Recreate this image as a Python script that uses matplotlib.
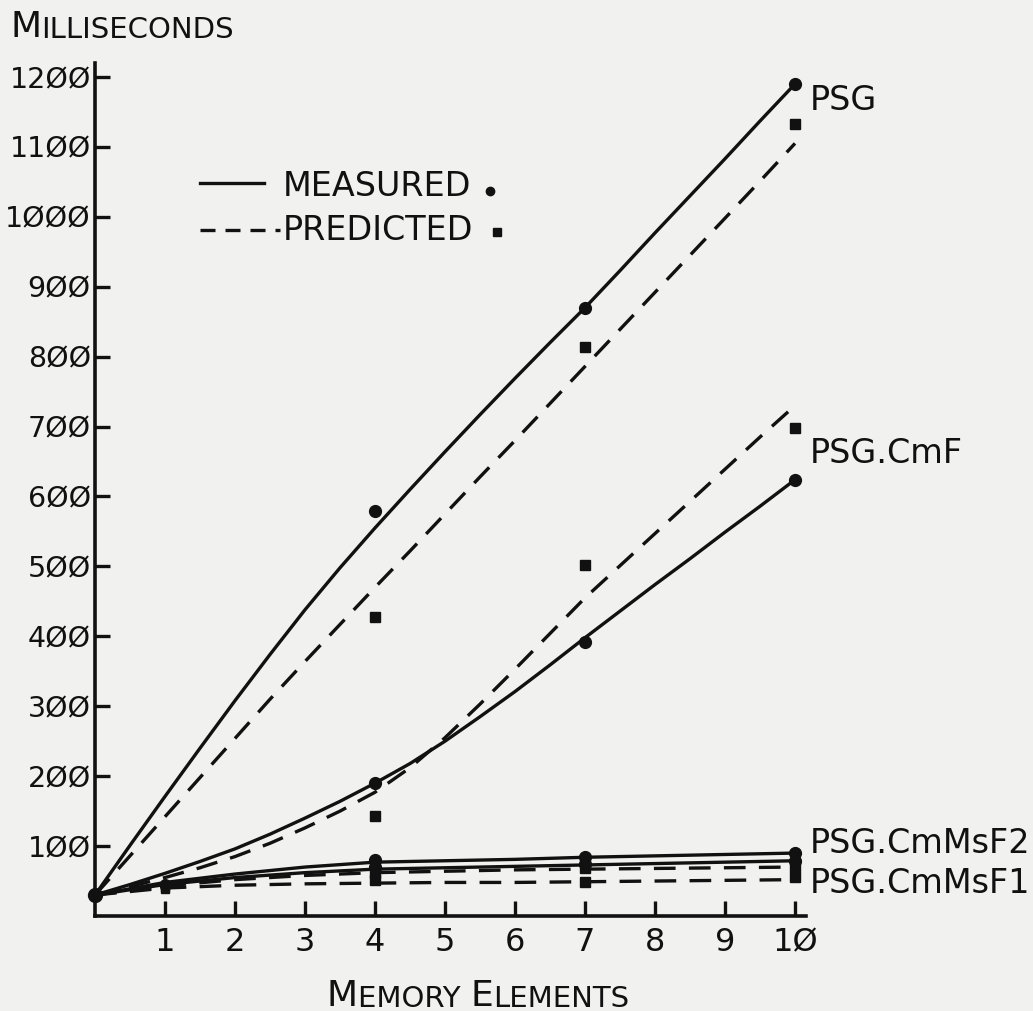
import matplotlib
matplotlib.use("Agg")
import matplotlib.pyplot as plt
from matplotlib.lines import Line2D

plt.rcParams['font.family'] = ['DejaVu Sans']

# ---------------- data ----------------
x_fine = [0, 0.5, 1, 1.5, 2, 2.5, 3, 3.5, 4, 4.5, 5, 5.5, 6, 6.5, 7, 7.5, 8, 8.5, 9, 9.5, 10]
psg_meas_curve = [30, 101, 171, 240, 308, 374, 438, 498, 555, 610, 664, 717, 769, 820, 870,
                  923, 977, 1030, 1083, 1137, 1190]
psg_pred_curve = [30, 86, 142, 198, 254, 310, 364, 417, 470, 522, 575, 628, 680, 733, 786,
                  839, 892, 945, 998, 1051, 1105]
cmf_meas_curve = [30, 45, 61, 78, 96, 117, 140, 164, 190, 218, 250, 285, 321, 359, 398,
                  436, 474, 511, 549, 586, 624]
cmf_pred_curve = [30, 42, 55, 69, 85, 104, 126, 150, 177, 212, 255, 303, 353, 404, 455,
                  501, 547, 593, 639, 685, 730]

x_curve = [0, 1, 2, 3, 4, 5, 6, 7, 8, 9, 10]
f2_meas_curve = [30, 48, 60, 70, 77, 79, 81, 84, 86, 88, 90]
f1_meas_curve = [30, 45, 55, 62, 67, 69, 71, 73, 75, 77, 79]
f2_pred_curve = [30, 43, 52, 58, 62, 64, 66, 67, 68, 69, 70]
f1_pred_curve = [30, 40, 44, 46, 47, 48, 48, 49, 50, 51, 52]

x_pts = [4, 7, 10]
psg_meas_pts = [579, 869, 1190]
psg_pred_pts = [428, 814, 1133]
cmf_meas_pts = [190, 392, 624]
cmf_pred_pts = [143, 502, 698]
f2_meas_pts = [80, 85, 90]
f1_meas_pts = [70, 74, 78]
f2_pred_pts = [62, 68, 70]
f1_pred_pts = [52, 49, 56]

origin_x = [0]
origin_y = [30]
x_one = [1, 1]
one_meas = [46, 43]
one_pred = [41, 39]

series_labels = ["PSG", "PSG.CmF", "PSG.CmMsF2", "PSG.CmMsF1"]
label_y = [1166, 662, 104, 46]

x_ticks = [1, 2, 3, 4, 5, 6, 7, 8, 9, 10]
x_ticklabels = ["1", "2", "3", "4", "5", "6", "7", "8", "9", "1\u00d8"]
y_ticks = [100, 200, 300, 400, 500, 600, 700, 800, 900, 1000, 1100, 1200]
y_ticklabels = ["1\u00d8\u00d8", "2\u00d8\u00d8", "3\u00d8\u00d8", "4\u00d8\u00d8", "5\u00d8\u00d8",
                "6\u00d8\u00d8", "7\u00d8\u00d8", "8\u00d8\u00d8", "9\u00d8\u00d8",
                "1\u00d8\u00d8\u00d8", "11\u00d8\u00d8", "12\u00d8\u00d8"]

# ---------------- figure ----------------
W, H = 1033, 1011
bg = '#f1f1ef'
ink = '#111111'
fig = plt.figure(figsize=(W / 100, H / 100), dpi=100, facecolor=bg)
ax = fig.add_axes([95 / W, 1 - 916 / H, 710.5 / W, (916 - 63) / H])
ax.set_facecolor(bg)
ax.set_xlim(0, 10.15)
ax.set_ylim(0, 1220)

for s in ['top', 'right']:
    ax.spines[s].set_visible(False)
for s in ['left', 'bottom']:
    ax.spines[s].set_linewidth(2.6)
    ax.spines[s].set_color(ink)

ax.set_xticks(x_ticks)
ax.set_xticklabels(x_ticklabels)
ax.set_yticks(y_ticks)
ax.set_yticklabels(y_ticklabels)
ax.tick_params(axis='both', direction='in', length=11, width=2.4, colors=ink)
ax.tick_params(axis='x', pad=8, labelsize=23)
ax.tick_params(axis='y', pad=3, labelsize=20.5)

lw = 2.4
dash = (6.5, 4)
for xc, yc in [(x_fine, psg_meas_curve), (x_fine, cmf_meas_curve),
               (x_curve, f2_meas_curve), (x_curve, f1_meas_curve)]:
    ax.plot(xc, yc, color=ink, lw=lw, solid_capstyle='round', solid_joinstyle='round')
for xc, yc in [(x_fine, psg_pred_curve), (x_fine, cmf_pred_curve),
               (x_curve, f2_pred_curve), (x_curve, f1_pred_curve)]:
    ax.plot(xc, yc, color=ink, lw=lw, linestyle=(0, dash), dash_capstyle='butt')

for yp in [psg_meas_pts, cmf_meas_pts, f2_meas_pts, f1_meas_pts]:
    ax.plot(x_pts, yp, 'o', color=ink, ms=8.5, clip_on=False)
for yp in [psg_pred_pts, cmf_pred_pts, f2_pred_pts, f1_pred_pts]:
    ax.plot(x_pts, yp, 's', color=ink, ms=7, clip_on=False)
ax.plot(origin_x, origin_y, 'o', color=ink, ms=10, clip_on=False)
ax.plot(x_one, one_meas, 'o', color=ink, ms=7, clip_on=False)
ax.plot(x_one, one_pred, 's', color=ink, ms=6, clip_on=False)

for lab, ly in zip(series_labels, label_y):
    ax.text(10.21, ly, lab, fontsize=24, color=ink, ha='left', va='center', clip_on=False)


def fx(px):
    return px / W


def fy(py):
    return 1 - py / H


# legend (hand drawn)
fig.add_artist(Line2D([fx(200), fx(264)], [fy(183), fy(183)], color=ink, lw=2.4))
fig.add_artist(Line2D([fx(200), fx(280)], [fy(230), fy(230)], color=ink, lw=2.4,
                      linestyle=(0, (4.5, 3))))
fig.text(fx(283), fy(186), "MEASURED", fontsize=24, color=ink, ha='left', va='center')
fig.text(fx(283), fy(230), "PREDICTED", fontsize=24, color=ink, ha='left', va='center')
fig.add_artist(Line2D([fx(490)], [fy(191)], marker='o', ms=6, color=ink, lw=0))
fig.add_artist(Line2D([fx(497)], [fy(232)], marker='s', ms=5.5, color=ink, lw=0))

# axis titles in small caps
t1 = fig.text(fx(10), fy(37), "M", fontsize=26, color=ink, ha='left', va='baseline')
ax.annotate("ILLISECONDS", xy=(1, 0), xycoords=t1, fontsize=21, color=ink,
            ha='left', va='bottom', annotation_clip=False)

b1 = fig.text(fx(327), fy(1006), "M", fontsize=26, color=ink, ha='left', va='baseline')
b2 = ax.annotate("EMORY ", xy=(1, 0), xycoords=b1, fontsize=21, color=ink,
                 ha='left', va='bottom', annotation_clip=False)
b3 = ax.annotate("E", xy=(1, 0), xycoords=b2, fontsize=26, color=ink,
                 ha='left', va='bottom', annotation_clip=False)
ax.annotate("LEMENTS", xy=(1, 0), xycoords=b3, fontsize=21, color=ink,
            ha='left', va='bottom', annotation_clip=False)

fig.savefig("out.png", dpi=100, facecolor=bg)
